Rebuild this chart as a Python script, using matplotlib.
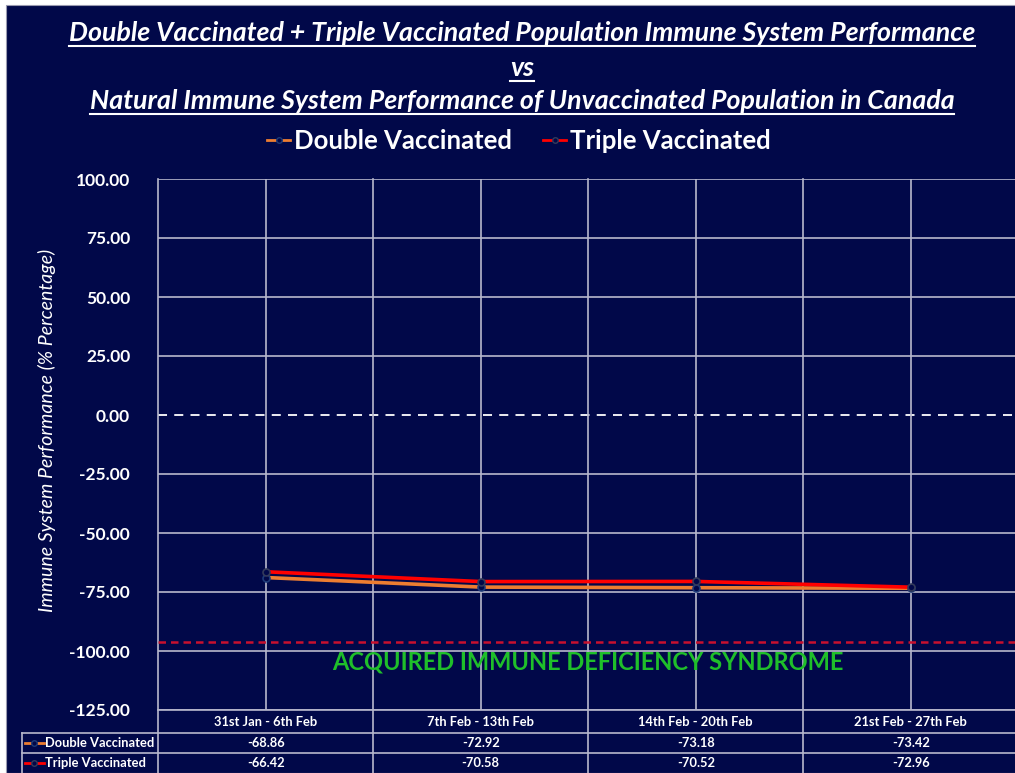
import matplotlib
matplotlib.use("Agg")
import matplotlib.pyplot as plt
import matplotlib.transforms as mtransforms
from matplotlib.lines import Line2D
from matplotlib.patches import Rectangle
import numpy as np

# data
categories = ["31st Jan - 6th Feb", "7th Feb - 13th Feb", "14th Feb - 20th Feb", "21st Feb - 27th Feb"]
double_vax = [-68.86, -72.92, -73.18, -73.42]
triple_vax = [-66.42, -70.58, -70.52, -72.96]
series_names = ["Double Vaccinated", "Triple Vaccinated"]
yticks = [100, 75, 50, 25, 0, -25, -50, -75, -100, -125]
aids_level = -96
aids_label = "ACQUIRED IMMUNE DEFICIENCY SYNDROME"
title_lines = ["Double Vaccinated + Triple Vaccinated Population Immune System Performance",
               "vs",
               "Natural Immune System Performance of Unvaccinated Population in Canada"]

navy = "#010849"
grid_col = "#b8b8cc"
orange = "#ED7D31"
red = "#FF0000"
marker_edge = "#1d3a78"

W, H = 1015, 773
fig = plt.figure(figsize=(W / 100, H / 100), dpi=100)
fig.patch.set_facecolor("white")
# navy panel (small white margin top/left as in the screenshot)
fig.add_artist(Rectangle((6 / W, 0), 1, 1 - 5 / H, transform=fig.transFigure,
                         facecolor=navy, edgecolor="#9a9ab0", lw=0.8, zorder=0))

def fx(px):
    return px / W

def fy(py):
    return 1 - py / H

ax = fig.add_axes([fx(158), fy(710), (1018.5 - 158) / W, (710 - 179) / H])
ax.set_facecolor(navy)
ax.patch.set_alpha(0)
x = np.arange(len(categories))
ax.set_xlim(-0.5, len(categories) - 0.5)
ax.set_ylim(-125, 100)
for s in ax.spines.values():
    s.set_visible(False)

# gridlines
for yv in yticks:
    if yv == 0:
        continue
    ax.axhline(yv, color=grid_col, lw=1.2, zorder=1)
ax.axhline(0, color="white", lw=1.3, ls=(0, (5, 4)), zorder=1)
for xv in x:
    ax.axvline(xv, color=grid_col, lw=1.2, zorder=1)
# category boundaries continue down through the data table
bt = mtransforms.blended_transform_factory(ax.transData, fig.transFigure)
for xv in np.arange(-0.5, len(categories), 1.0):
    ax.add_line(Line2D([xv, xv], [fy(179), 0], transform=bt, color=grid_col,
                       lw=1.2, clip_on=False, zorder=1))

ax.axhline(aids_level, color="#c8102e", lw=1.8, ls=(0, (3, 2)), zorder=2)
ax.text(1.5, -104.5, aids_label, color="#1fbf2a", fontsize=17, fontweight="bold",
        family="Lato", ha="center", va="center", zorder=3)

ax.plot(x, double_vax, color=orange, lw=2.6, marker="o", ms=5, mfc=navy,
        mec=marker_edge, mew=1.2, zorder=4, label=series_names[0])
ax.plot(x, triple_vax, color=red, lw=2.6, marker="o", ms=5, mfc=navy,
        mec="#333a5a", mew=1.2, zorder=5, label=series_names[1])

ax.set_yticks(yticks)
ax.set_yticklabels(["%.2f" % v for v in yticks], color="white",
                   fontsize=12.5, fontweight="bold", family="Lato")
ax.tick_params(axis="y", length=0, pad=20)
ax.set_xticks([])
ax.set_ylabel("Immune System Performance (% Percentage)", color="white",
              fontsize=14, style="italic", family="Lato")
ax.yaxis.set_label_coords(-0.118, 0.527)

# data table under the plot
row_lines = [710, 733, 753]
for ry in row_lines[1:]:
    fig.add_artist(Line2D([fx(22), 1], [fy(ry), fy(ry)], transform=fig.transFigure,
                          color=grid_col, lw=1.2))
fig.add_artist(Line2D([fx(158), 1], [fy(710), fy(710)], transform=fig.transFigure,
                      color=grid_col, lw=1.2))
fig.add_artist(Line2D([fx(22), fx(22)], [fy(733), 0], transform=fig.transFigure,
                      color=grid_col, lw=1.2))

tab_font = dict(color="white", fontsize=9.3, fontweight="bold", family="Lato",
                ha="center", va="center")
for i, c in enumerate(categories):
    ax.text(i, fy(721.5), c, transform=bt, **tab_font)
    ax.text(i, fy(743), "%.2f" % double_vax[i], transform=bt, **tab_font)
    ax.text(i, fy(763), "%.2f" % triple_vax[i], transform=bt, **tab_font)

key_rows = [(743, orange, marker_edge), (763, red, "#333a5a")]
for name, (ry, col, mec) in zip(series_names, key_rows):
    fig.add_artist(Line2D([fx(25), fx(44)], [fy(ry), fy(ry)], transform=fig.transFigure,
                          color=col, lw=2))
    fig.add_artist(Line2D([fx(34)], [fy(ry)], transform=fig.transFigure,
                          color=col, marker="o", ms=4, mfc=navy, mec=mec, mew=1))
    fig.text(fx(45), fy(ry), name, color="white", fontsize=9.3, fontweight="bold",
             family="Lato", ha="left", va="center")

# legend
handles = [Line2D([], [], color=orange, lw=2, marker="o", ms=4, mfc=navy, mec=marker_edge),
           Line2D([], [], color=red, lw=2, marker="o", ms=4, mfc=navy, mec="#333a5a")]
leg = fig.legend(handles, series_names, loc="center", bbox_to_anchor=(fx(519), fy(141)),
                 ncol=2, frameon=False, handlelength=0.9, handletextpad=0.15,
                 columnspacing=1.2, prop=dict(family="Lato", weight="bold", size=18.5))
for t in leg.get_texts():
    t.set_color("white")

# titles, underlined
title_y = [33, 68, 101]
title_texts = []
for line, ty in zip(title_lines, title_y):
    t = fig.text(fx(522), fy(ty), line, color="white", fontsize=19.3, fontweight="bold",
                 style="italic", family="Lato", ha="center", va="center")
    title_texts.append(t)
fig.canvas.draw()
r = fig.canvas.get_renderer()
for t in title_texts:
    bb = t.get_window_extent(renderer=r)
    yl = (bb.y0 - 1) / H
    fig.add_artist(Line2D([bb.x0 / W, bb.x1 / W], [yl, yl], transform=fig.transFigure,
                          color="white", lw=1.5))

fig.savefig("out.png", dpi=100, facecolor=fig.get_facecolor())
